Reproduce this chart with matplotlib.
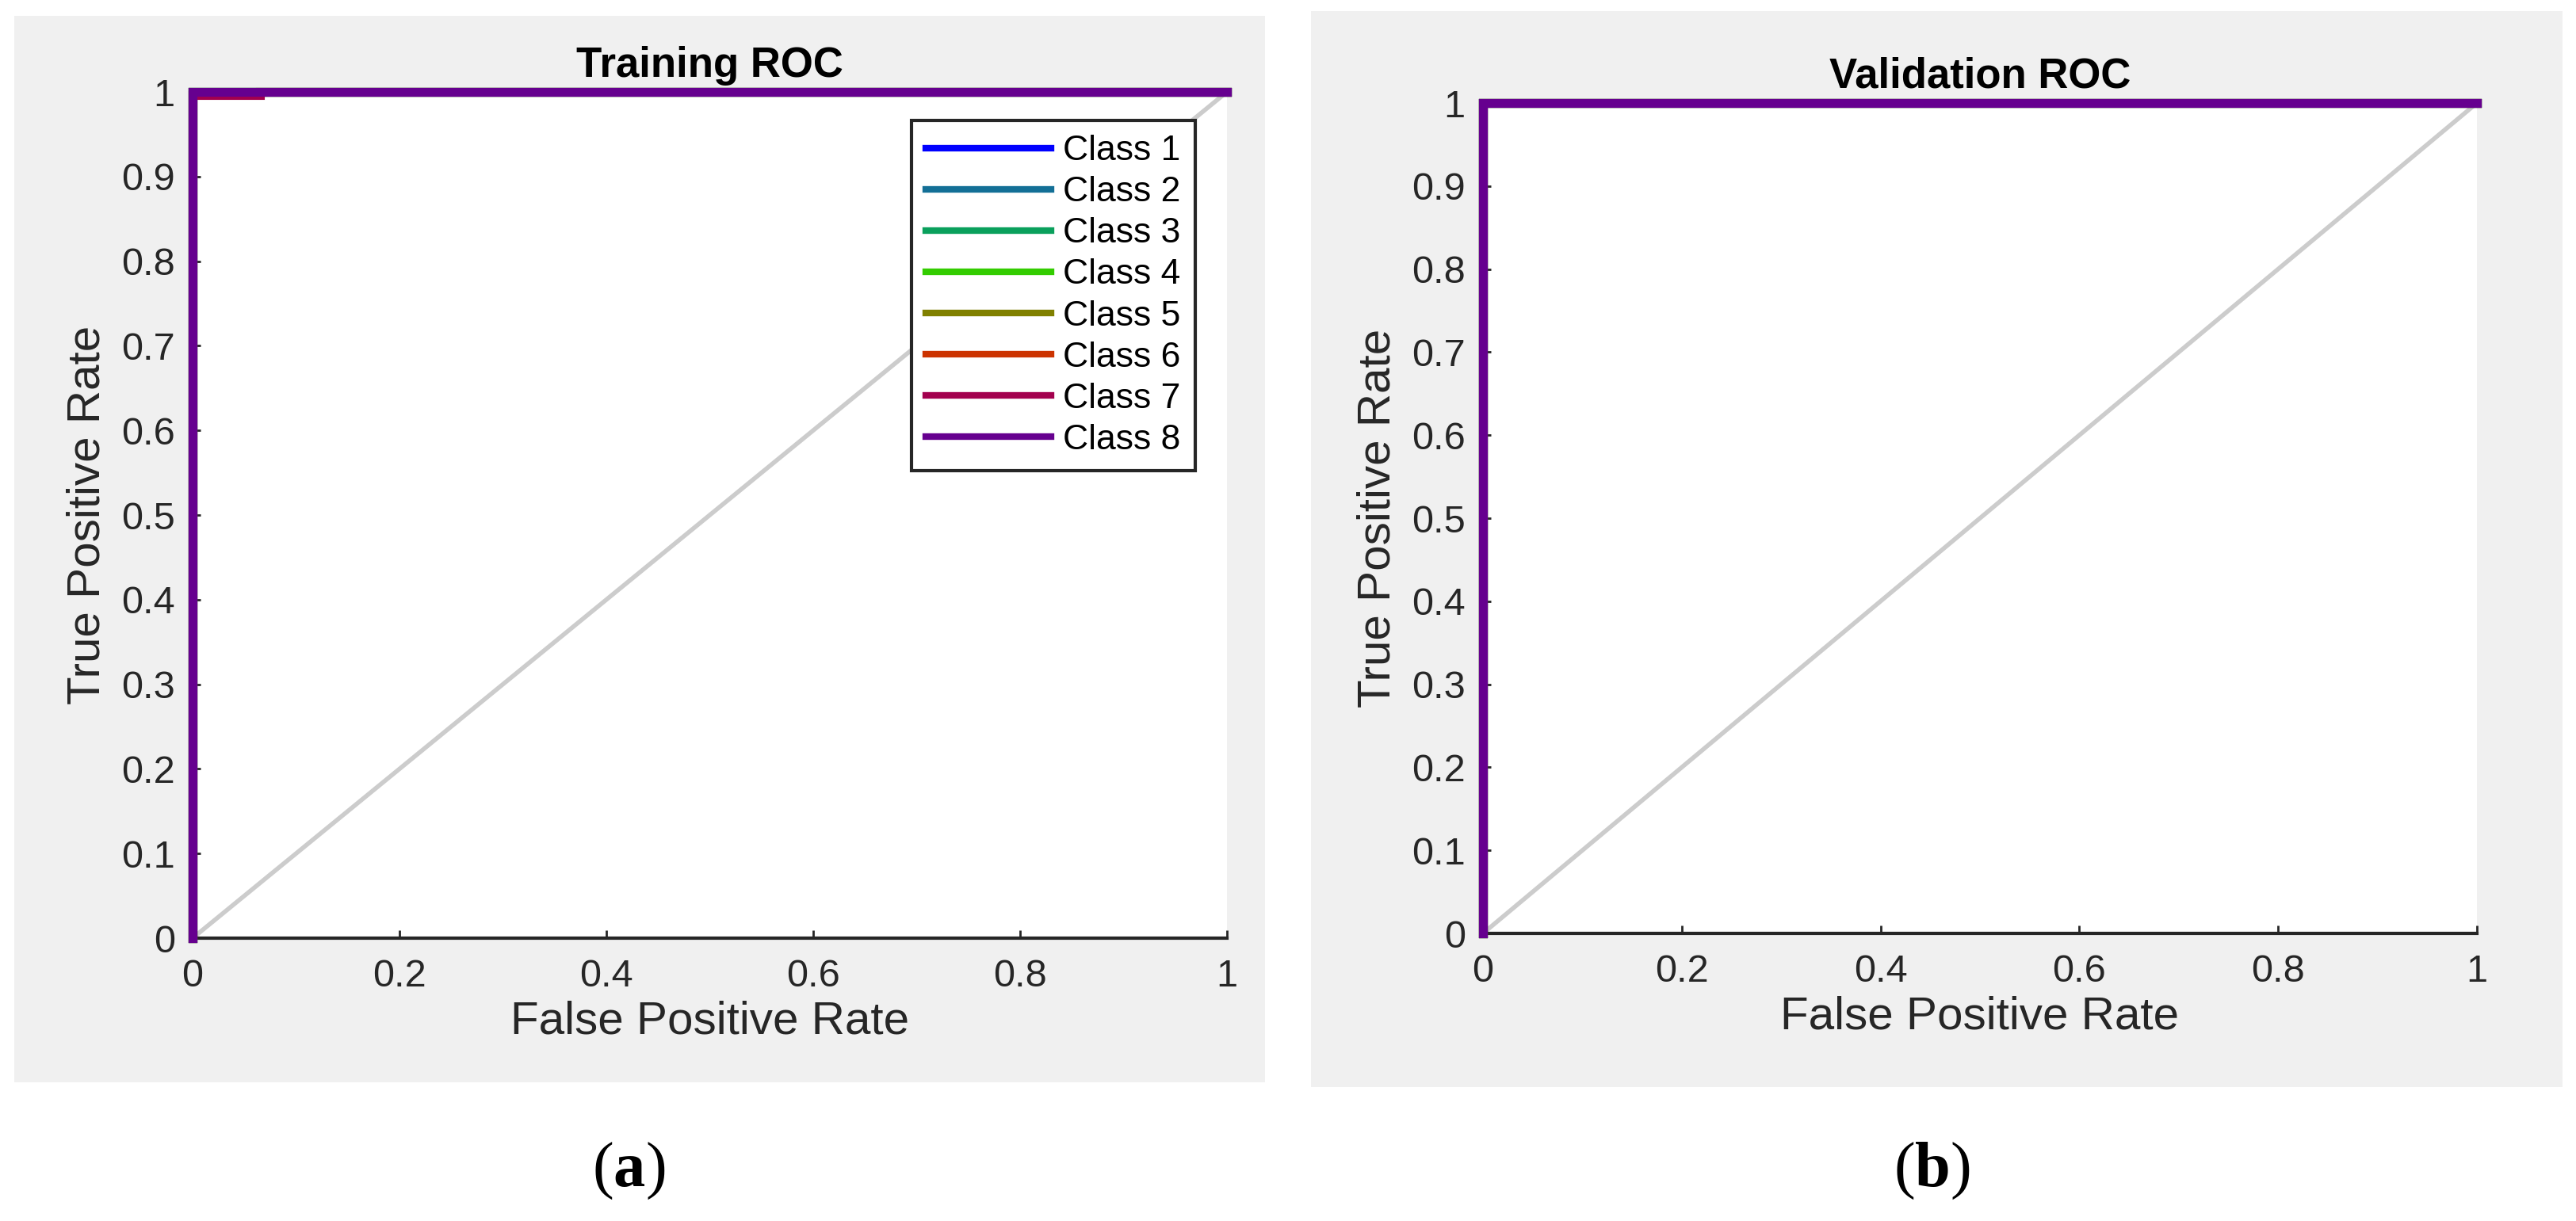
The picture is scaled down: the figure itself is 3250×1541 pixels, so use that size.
import numpy as np
import matplotlib
matplotlib.use("Agg")
import matplotlib.pyplot as plt
from matplotlib.patches import Rectangle
from matplotlib.ticker import FormatStrFormatter

# ROC data: every class is (almost) a perfect classifier
class_names = ["Class 1", "Class 2", "Class 3", "Class 4",
               "Class 5", "Class 6", "Class 7", "Class 8"]
class_colors = ["#0000ff", "#136f96", "#0aa05c", "#33cc00",
                "#808000", "#cc3300", "#a3004e", "#66008f"]

train_fpr = [
    [0, 0, 1],
    [0, 0, 1],
    [0, 0, 1],
    [0, 0, 1],
    [0, 0, 1],
    [0, 0, 1],
    [0, 0, 0.065, 0.065, 1],
    [0, 0, 1],
]
train_tpr = [
    [0, 1, 1],
    [0, 1, 1],
    [0, 1, 1],
    [0, 1, 1],
    [0, 1, 1],
    [0, 1, 1],
    [0, 0.996, 0.996, 1, 1],
    [0, 1, 1],
]

val_fpr = [[0, 0, 1] for _ in class_names]
val_tpr = [[0, 1, 1] for _ in class_names]

x_ticks = [0, 0.2, 0.4, 0.6, 0.8, 1]
y_ticks = [0, 0.1, 0.2, 0.3, 0.4, 0.5, 0.6, 0.7, 0.8, 0.9, 1]

plt.rcParams["font.family"] = ["Liberation Sans", "DejaVu Sans"]
plt.rcParams["mathtext.fontset"] = "custom"
plt.rcParams["mathtext.rm"] = "Liberation Serif"
plt.rcParams["mathtext.bf"] = "Liberation Serif:bold"

TXT = "#262626"
W, H = 3250, 1541

fig = plt.figure(figsize=(W / 100, H / 100), dpi=100)


def px_rect(x0, y0, x1, y1):
    # pixel box (top-left origin) -> figure fraction [left, bottom, w, h]
    return [x0 / W, 1 - y1 / H, (x1 - x0) / W, (y1 - y0) / H]


def roc_panel(bg_box, ax_box, title, fprs, tprs, show_legend):
    l, b, w, h = px_rect(*bg_box)
    fig.add_artist(Rectangle((l, b), w, h, transform=fig.transFigure,
                             facecolor="#f0f0f0", edgecolor="none", zorder=-5))
    ax = fig.add_axes(px_rect(*ax_box))
    ax.set_facecolor("white")

    ax.plot([0, 1], [0, 1], color="#cccccc", lw=4, zorder=1)
    for name, col, fx, ty in zip(class_names, class_colors, fprs, tprs):
        ax.plot(fx, ty, color=col, lw=8, label=name, clip_on=False,
                solid_joinstyle="miter", zorder=3)

    ax.set_xlim(0, 1)
    ax.set_ylim(0, 1)
    ax.set_xticks(x_ticks)
    ax.set_yticks(y_ticks)
    ax.xaxis.set_major_formatter(FormatStrFormatter("%g"))
    ax.yaxis.set_major_formatter(FormatStrFormatter("%g"))
    ax.tick_params(direction="in", length=7, width=2, colors=TXT,
                   labelsize=35, labelcolor=TXT)
    ax.tick_params(axis="x", pad=19)
    ax.tick_params(axis="y", pad=16)
    for side in ["top", "right"]:
        ax.spines[side].set_visible(False)
    for side in ["left", "bottom"]:
        ax.spines[side].set_color(TXT)
        ax.spines[side].set_linewidth(3)

    ax.set_title(title, fontsize=38, fontweight="bold", color="black", pad=14)
    ax.set_xlabel("False Positive Rate", fontsize=42, color=TXT, labelpad=5)
    ax.set_ylabel("True Positive Rate", fontsize=42, color=TXT, labelpad=11)

    if show_legend:
        leg = ax.legend(loc="upper right", bbox_to_anchor=(0.969, 0.966),
                        borderaxespad=0, fontsize=32, handlelength=3.55,
                        handletextpad=0.35, labelspacing=0.25, borderpad=0.4,
                        fancybox=False, framealpha=1, edgecolor=TXT)
        leg.get_frame().set_linewidth(3)
        for line in leg.get_lines():
            line.set_linewidth(6)
    return ax


roc_panel((18, 20, 1596, 1366), (243, 116, 1548, 1184), "Training ROC",
          train_fpr, train_tpr, True)
roc_panel((1654, 14, 3233, 1372), (1871, 130, 3125, 1178), "Validation ROC",
          val_fpr, val_tpr, False)

for label, xc in [("a", 793), ("b", 2437)]:
    fig.text(xc / W, 1 - 1478 / H, "($\\mathbf{%s}$)" % label,
             family="Liberation Serif", fontsize=58, ha="center", va="center")

fig.savefig("out.png", dpi=100)
